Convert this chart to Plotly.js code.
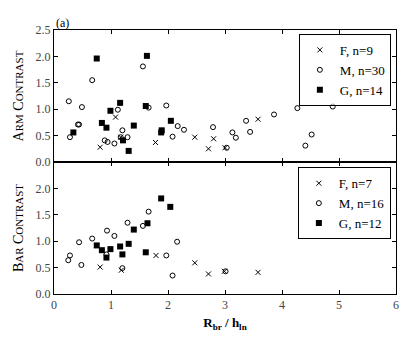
<!DOCTYPE html>
<html>
<head>
<meta charset="utf-8">
<script src="https://cdn.plot.ly/plotly-3.0.1.min.js"></script>
<style>
  body { margin: 0; background: #fff; }
  #plot { width: 415px; height: 347px; }
</style>
</head>
<body>
<div id="plot"></div>
<script>
// Arm contrast (top panel)
var armF_x = [0.81, 1.08, 1.17, 1.78, 2.47, 2.71, 2.80, 3.00, 3.58];
var armF_y = [0.28, 0.85, 0.47, 0.37, 0.47, 0.25, 0.44, 0.27, 0.81];

var armM_x = [0.26, 0.28, 0.42, 0.44, 0.49, 0.67, 0.89, 0.94, 1.06, 1.12, 1.17, 1.20, 1.29, 1.56, 1.66,
              1.97, 2.08, 2.17, 2.28, 2.79, 3.03, 3.13, 3.19, 3.37, 3.44, 3.86, 4.27, 4.41, 4.52, 4.89];
var armM_y = [1.15, 0.47, 0.71, 0.71, 1.04, 1.55, 0.41, 0.38, 0.35, 0.99, 0.47, 0.60, 0.47, 1.81, 1.03,
              1.07, 0.48, 0.68, 0.61, 0.66, 0.27, 0.56, 0.46, 0.78, 0.57, 0.90, 1.02, 0.31, 0.52, 1.05];

var armG_x = [0.34, 0.75, 0.84, 0.92, 0.99, 1.16, 1.21, 1.31, 1.40, 1.61, 1.63, 1.88, 1.89, 2.05];
var armG_y = [0.56, 1.96, 0.74, 0.65, 0.97, 1.12, 0.41, 0.21, 0.69, 1.06, 2.01, 0.56, 0.60, 0.78];

// Bar contrast (bottom panel)
var barF_x = [0.81, 1.18, 1.79, 2.47, 2.71, 2.99, 3.58];
var barF_y = [0.51, 0.45, 0.73, 0.59, 0.38, 0.43, 0.41];

var barM_x = [0.25, 0.28, 0.44, 0.48, 0.67, 0.92, 0.93, 1.06, 1.20, 1.29, 1.56, 1.66, 1.97, 2.08, 2.16, 3.01];
var barM_y = [0.64, 0.73, 0.98, 0.55, 1.05, 0.75, 1.20, 1.10, 0.49, 1.35, 1.29, 1.56, 0.73, 0.35, 0.99, 0.43];

var barG_x = [0.75, 0.84, 0.92, 0.99, 1.16, 1.20, 1.31, 1.40, 1.61, 1.64, 1.88, 2.04];
var barG_y = [0.92, 0.83, 0.69, 0.85, 0.90, 0.75, 0.95, 1.22, 0.79, 1.34, 1.81, 1.65];

var serif = "Liberation Serif, DejaVu Serif, serif";

var crossM = { symbol: "x-thin-open", size: 5, color: "#000", line: { width: 1, color: "#000" } };
var circM = { symbol: "circle-open", size: 5, color: "#000", line: { width: 1, color: "#000" } };
var sqM = { symbol: "square", size: 6, color: "#000" };

var traces = [
  { x: armF_x, y: armF_y, xaxis: "x2", yaxis: "y", mode: "markers", type: "scatter",
    name: "F, n=9", marker: crossM, legend: "legend" },
  { x: armM_x, y: armM_y, xaxis: "x2", yaxis: "y", mode: "markers", type: "scatter",
    name: "M, n=30", marker: circM, legend: "legend" },
  { x: armG_x, y: armG_y, xaxis: "x2", yaxis: "y", mode: "markers", type: "scatter",
    name: "G, n=14", marker: sqM, legend: "legend" },
  { x: barF_x, y: barF_y, xaxis: "x", yaxis: "y2", mode: "markers", type: "scatter",
    name: "F, n=7", marker: crossM, legend: "legend2" },
  { x: barM_x, y: barM_y, xaxis: "x", yaxis: "y2", mode: "markers", type: "scatter",
    name: "M, n=16", marker: circM, legend: "legend2" },
  { x: barG_x, y: barG_y, xaxis: "x", yaxis: "y2", mode: "markers", type: "scatter",
    name: "G, n=12", marker: sqM, legend: "legend2" }
];

var axisBase = {
  showline: true, linecolor: "#000", linewidth: 1, mirror: "ticks",
  ticks: "inside", ticklen: 4, tickcolor: "#000", showgrid: false, zeroline: false,
  tickfont: { family: serif, size: 12, color: "#444" }
};

var legendBase = {
  bordercolor: "#000", borderwidth: 1, bgcolor: "rgba(255,255,255,0.6)",
  font: { family: serif, size: 13, color: "#000" },
  xanchor: "right", yanchor: "top", x: 0.985, tracegroupgap: 0, itemwidth: 30
};

var layout = {
  width: 415, height: 347,
  margin: { l: 54, r: 19, t: 30, b: 53 },
  paper_bgcolor: "#fff", plot_bgcolor: "#fff",
  font: { family: serif, color: "#000" },
  xaxis: Object.assign({}, axisBase, {
    anchor: "y2", range: [0, 6], dtick: 1,
    title: { text: "<b>R<sub>br</sub> / h<sub>ln</sub></b>", font: { family: serif, size: 13 }, standoff: 6 }
  }),
  xaxis2: Object.assign({}, axisBase, {
    anchor: "y", matches: "x", range: [0, 6], dtick: 1, showticklabels: false
  }),
  yaxis: Object.assign({}, axisBase, {
    domain: [0.5, 1], range: [0, 2.5], dtick: 0.5, tickformat: ".1f",
    title: { text: "A<span style='font-size:11px'>RM</span> C<span style='font-size:11px'>ONTRAST</span>",
             font: { family: serif, size: 14 }, standoff: 8 }
  }),
  yaxis2: Object.assign({}, axisBase, {
    domain: [0, 0.5], range: [0, 2.5], tickvals: [0, 0.5, 1, 1.5, 2], tickformat: ".1f",
    title: { text: "B<span style='font-size:11px'>AR</span> C<span style='font-size:11px'>ONTRAST</span>",
             font: { family: serif, size: 14 }, standoff: 8 }
  }),
  legend: Object.assign({}, legendBase, { y: 0.985 }),
  legend2: Object.assign({}, legendBase, { y: 0.48 }),
  annotations: [{
    text: "(a)", xref: "paper", yref: "paper", x: 0, y: 1, xanchor: "left", yanchor: "bottom",
    showarrow: false, font: { family: serif, size: 12, color: "#000" }, xshift: 0, yshift: -2
  }]
};

Plotly.newPlot("plot", traces, layout, { displayModeBar: false, staticPlot: true });
</script>
</body>
</html>
